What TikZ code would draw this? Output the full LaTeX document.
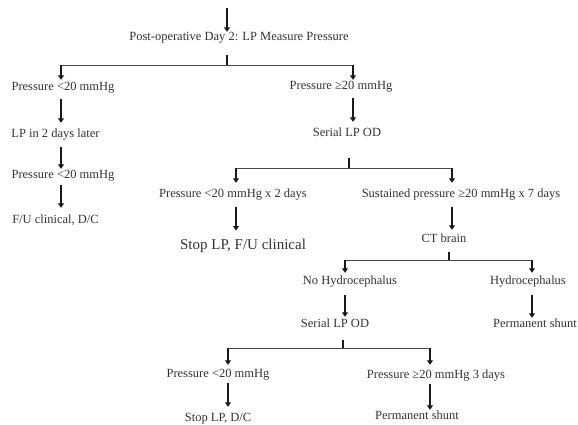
\documentclass[tikz,border=0pt]{standalone}
\usepackage{fontspec}
\setmainfont{Liberation Serif}
\usetikzlibrary{arrows.meta}
\definecolor{txt}{HTML}{333333}
\definecolor{ln}{HTML}{1A1A1A}
\tikzset{
  lbl/.style={inner sep=0pt, text height=9pt, text depth=3pt, text=txt, font=\fontsize{12.5pt}{14pt}\selectfont},
  big/.style={inner sep=0pt, text height=11pt, text depth=3.5pt, text=txt, font=\fontsize{15pt}{17pt}\selectfont},
  arr/.style={draw=ln, line width=1.7pt, -{Triangle[width=6pt,length=4.5pt]}},
  stub/.style={draw=ln, line width=1.5pt},
  bar/.style={draw=ln!80, line width=0.9pt},
}
\begin{document}
\begin{tikzpicture}[x=1pt,y=-1pt]
\useasboundingbox[fill=white] (0,0) rectangle (578,425);
% nodes
\coordinate (top) at (227,8);
\node[lbl] (post) at (239,38) {Post-operative Day 2: LP Measure Pressure};
\coordinate (b1c) at (227,65);
\coordinate (b1l) at (61,65);
\coordinate (b1r) at (353,65);
\node[lbl] (pL1) at (63,88) {Pressure <20 mmHg};
\node[lbl] (pR1) at (341,87) {Pressure ≥20 mmHg};
\node[lbl] (lp2) at (55.5,135) {LP in 2 days later};
\node[lbl] (pL2) at (63,175) {Pressure <20 mmHg};
\node[lbl] (fu) at (55.5,220) {F/U clinical, D/C};
\node[lbl] (ser1) at (347,133) {Serial LP OD};
\coordinate (b2c) at (349,168);
\coordinate (b2l) at (236,168);
\coordinate (b2r) at (452,168);
\node[lbl] (p2d) at (233,194) {Pressure <20 mmHg x 2 days};
\node[lbl] (sus) at (461,194) {Sustained pressure ≥20 mmHg x 7 days};
\node[big] (stopfu) at (243,246) {Stop LP, F/U clinical};
\node[lbl] (ct) at (444,239) {CT brain};
\coordinate (b3c) at (449,260);
\coordinate (b3l) at (345,260);
\coordinate (b3r) at (532,260);
\node[lbl] (noh) at (350,281) {No Hydrocephalus};
\node[lbl] (hyd) at (528,281) {Hydrocephalus};
\node[lbl] (ser2) at (335,324) {Serial LP OD};
\node[lbl] (perm1) at (535,324) {Permanent shunt};
\coordinate (b4c) at (343,348);
\coordinate (b4l) at (228,348);
\coordinate (b4r) at (430,348);
\node[lbl] (p3) at (218,374) {Pressure <20 mmHg};
\node[lbl] (p4) at (436,375) {Pressure ≥20 mmHg 3 days};
\node[lbl] (stopdc) at (218,418) {Stop LP, D/C};
\node[lbl] (perm2) at (417,416) {Permanent shunt};
% connectors
\draw[arr, shorten >=0pt] (top) -- (post.north -| top);
\draw[stub, shorten <=11pt] (post.south -| b1c) -- (b1c);
\draw[bar] (b1l) -- (b1r);
\draw[arr, shorten >=2pt] (b1l) -- (pL1.north -| b1l);
\draw[arr, shorten >=1pt] (b1r) -- (pR1.north -| b1r);
\draw[arr, shorten <=5pt, shorten >=6pt] (pL1.south -| b1l) -- (lp2.north -| b1l);
\draw[arr, shorten <=6pt, shorten >=0pt] (lp2.south -| b1l) -- (pL2.north -| b1l);
\draw[arr, shorten <=4pt, shorten >=6pt] (pL2.south -| b1l) -- (fu.north -| b1l);
\draw[arr, shorten <=5pt, shorten >=5pt] (pR1.south -| b1r) -- (ser1.north -| b1r);
\draw[stub, shorten <=19pt] (ser1.south -| b2c) -- (b2c);
\draw[bar] (b2l) -- (b2r);
\draw[arr, shorten >=5pt] (b2l) -- (p2d.north -| b2l);
\draw[arr, shorten >=5pt] (b2r) -- (sus.north -| b2r);
\draw[arr, shorten <=7pt, shorten >=8pt] (p2d.south -| b2l) -- (stopfu.north -| b2l);
\draw[arr, shorten <=7pt, shorten >=3pt] (sus.south -| b2r) -- (ct.north -| b2r);
\draw[stub, shorten <=7pt] (ct.south -| b3c) -- (b3c);
\draw[bar] (b3l) -- (b3r);
\draw[arr, shorten >=2pt] (b3l) -- (noh.north -| b3l);
\draw[arr, shorten >=2pt] (b3r) -- (hyd.north -| b3r);
\draw[arr, shorten <=8pt, shorten >=1pt] (noh.south -| b3l) -- (ser2.north -| b3l);
\draw[arr, shorten <=8pt, shorten >=0pt] (hyd.south -| b3r) -- (perm1.north -| b3r);
\draw[stub, shorten <=10pt] (ser2.south -| b4c) -- (b4c);
\draw[bar] (b4l) -- (b4r);
\draw[arr, shorten >=3pt] (b4l) -- (p3.north -| b4l);
\draw[arr, shorten >=4pt] (b4r) -- (p4.north -| b4r);
\draw[arr, shorten <=3pt, shorten >=5pt] (p3.south -| b4l) -- (stopdc.north -| b4l);
\draw[arr, shorten <=3pt, shorten >=0pt] (p4.south -| b4r) -- (perm2.north -| b4r);
\end{tikzpicture}
\end{document}
